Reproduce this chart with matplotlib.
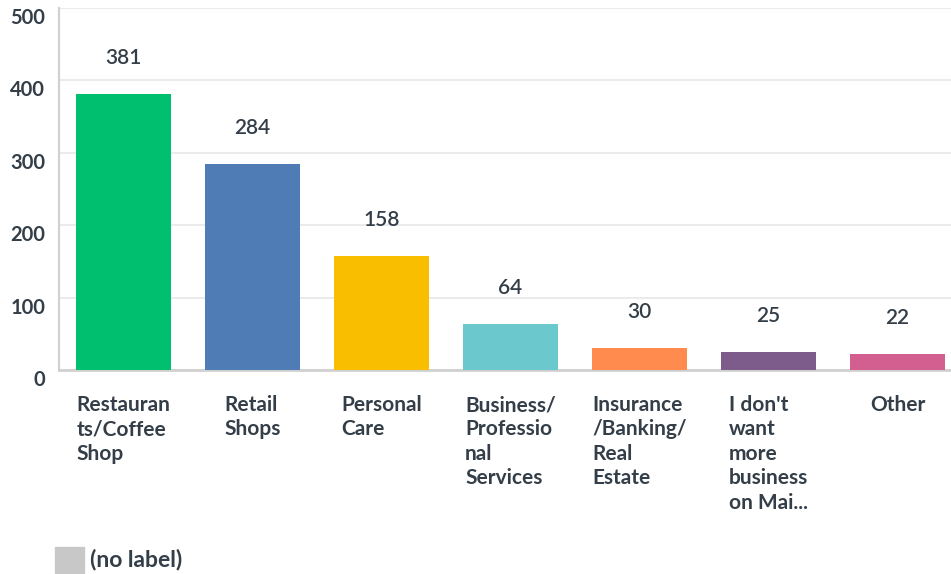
import matplotlib.pyplot as plt
from matplotlib.patches import Rectangle

# survey answers
categories = ['Restauran\nts/Coffee\nShop', 'Retail\nShops', 'Personal\nCare',
              'Business/\nProfessio\nnal\nServices', 'Insurance\n/Banking/\nReal\nEstate',
              "I don't\nwant\nmore\nbusiness\non Mai...", 'Other']
counts = [381, 284, 158, 64, 30, 25, 22]
colors = ['#00bf6f', '#507cb6', '#f9be00', '#6bc8cd', '#ff8b4f', '#7d5c8c', '#d25f90']
yticks = [0, 100, 200, 300, 400, 500]

text_col = '#333e48'
plt.rcParams['font.family'] = ['Lato', 'DejaVu Sans']

fig = plt.figure(figsize=(9.51, 5.74), dpi=100)
ax = fig.add_axes([0.062, 0.3554, 0.938, 0.6306])

bar_w = 0.74
x = list(range(len(categories)))
bars = ax.bar(x, counts, width=bar_w, color=colors, zorder=3)

for xi, v in zip(x, counts):
    ax.annotate(str(v), (xi, v), xytext=(0, 26), textcoords='offset points',
                ha='center', va='center', fontsize=15, fontweight='semibold', color=text_col)

# category labels: block centred under the bar, lines left aligned
for xi, lab in zip(x, categories):
    ax.annotate(lab, (xi, 0), xycoords=('data', 'axes fraction'),
                xytext=(0, -18), textcoords='offset points', ha='center', va='top',
                multialignment='left', fontsize=15, fontweight='bold',
                color=text_col, linespacing=1.28)

ax.set_ylim(0, 500)
ax.set_xlim(-0.5, -0.5 + (951 - 59) / 129)
ax.set_yticks(yticks)
ax.set_yticklabels([str(t) for t in yticks], fontsize=14.5, fontweight='bold', color=text_col)
ax.set_xticks([])
ax.tick_params(axis='y', length=0, pad=10)
for lab in ax.get_yticklabels():
    lab.set_verticalalignment('top')

ax.grid(axis='y', color='#e8e8e8', linewidth=1.2, zorder=0)
ax.spines['top'].set_visible(False)
ax.spines['right'].set_visible(False)
ax.spines['left'].set_color('#d0d0d0')
ax.spines['left'].set_linewidth(1.5)
ax.spines['bottom'].set_color('#d0d0d0')
ax.spines['bottom'].set_linewidth(2)

# legend swatch
fig.patches.append(Rectangle((55 / 951, 1 - 573 / 574), 29 / 951, 26 / 574,
                             transform=fig.transFigure, color='#c8c8c8', zorder=5))
fig.text(90 / 951, 1 - 560 / 574, '(no label)', fontsize=16.5, fontweight='bold',
         color=text_col, va='center', ha='left')

fig.savefig('out.png', dpi=100)
